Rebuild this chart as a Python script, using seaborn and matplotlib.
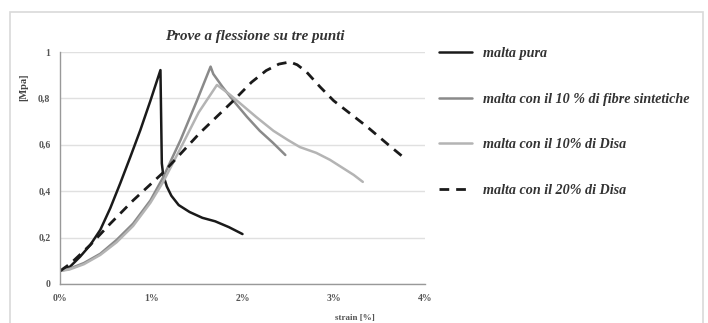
import matplotlib
matplotlib.use("Agg")
import matplotlib.pyplot as plt
import seaborn as sns
import pandas as pd
from matplotlib.patches import Rectangle

# strain [%] / stress [Mpa]
strain_pura = [0.0, 0.11, 0.22, 0.33, 0.44, 0.55, 0.66, 0.77, 0.88, 0.99, 1.10,
               1.115, 1.13, 1.17, 1.22, 1.30, 1.42, 1.56, 1.70, 1.85, 2.00]
mpa_pura = [0.056, 0.075, 0.118, 0.168, 0.233, 0.327, 0.435, 0.548, 0.664, 0.79, 0.922,
            0.52, 0.47, 0.42, 0.38, 0.34, 0.31, 0.285, 0.27, 0.245, 0.215]

strain_fibre = [0.0, 0.10, 0.26, 0.44, 0.62, 0.80, 0.99, 1.13, 1.32, 1.50, 1.65,
                1.68, 1.78, 1.90, 2.05, 2.19, 2.33, 2.47]
mpa_fibre = [0.056, 0.065, 0.09, 0.13, 0.19, 0.26, 0.36, 0.46, 0.62, 0.79, 0.937,
             0.905, 0.85, 0.79, 0.72, 0.66, 0.61, 0.556]

strain_disa10 = [0.0, 0.10, 0.26, 0.44, 0.62, 0.80, 0.99, 1.13, 1.32, 1.52, 1.72,
                 1.85, 1.97, 2.15, 2.34, 2.50, 2.63, 2.81, 2.96, 3.10, 3.22, 3.32]
mpa_disa10 = [0.056, 0.062, 0.085, 0.125, 0.18, 0.25, 0.35, 0.44, 0.585, 0.74, 0.858,
              0.82, 0.78, 0.72, 0.66, 0.62, 0.59, 0.565, 0.535, 0.50, 0.47, 0.44]

strain_disa20 = [0.0, 0.12, 0.33, 0.55, 0.80, 1.13, 1.53, 1.90, 2.10, 2.26, 2.40,
                 2.52, 2.60, 2.70, 2.85, 3.00, 3.18, 3.36, 3.60, 3.80]
mpa_disa20 = [0.056, 0.09, 0.168, 0.26, 0.36, 0.48, 0.65, 0.79, 0.87, 0.92, 0.948,
              0.957, 0.945, 0.915, 0.85, 0.79, 0.735, 0.68, 0.60, 0.535]

labels = ["malta pura", "malta con il 10 % di fibre sintetiche",
          "malta con il 10% di Disa", "malta con il 20% di Disa"]

sns.set_style("white")
plt.rcParams['font.family'] = ['Liberation Serif', 'DejaVu Serif']

fig = plt.figure(figsize=(7.08, 3.23), dpi=100)
fig.patches.append(Rectangle((10 / 708, -0.01), 693 / 708, (323 - 12) / 323 + 0.01,
                             transform=fig.transFigure, fill=False,
                             edgecolor="#d9d9d9", linewidth=1.2))
ax = fig.add_axes([0.085, 0.121, 0.515, 0.718])

series = [
    (strain_pura, mpa_pura, "#1a1a1a", "-", 1.8),
    (strain_fibre, mpa_fibre, "#8a8a8a", "-", 1.8),
    (strain_disa10, mpa_disa10, "#b4b4b4", "-", 1.8),
    (strain_disa20, mpa_disa20, "#1a1a1a", (0, (3.5, 2.5)), 2.0),
]
for (x, y, c, ls, lw), lab in zip(series, labels):
    df = pd.DataFrame({"strain": x, "mpa": y})
    sns.lineplot(data=df, x="strain", y="mpa", ax=ax, color=c, linestyle=ls,
                 linewidth=lw, label=lab, sort=False, estimator=None)

ax.set_xlim(0, 4)
ax.set_ylim(0, 1)
ax.set_xticks([0, 1, 2, 3, 4])
ax.set_xticklabels(["0%", "1%", "2%", "3%", "4%"])
ax.set_yticks([0, 0.2, 0.4, 0.6, 0.8, 1])
ax.set_yticklabels(["0", "0,2", "0,4", "0,6", "0,8", "1"])
ax.tick_params(labelsize=7, colors="#555555", length=0, pad=7)
for t in ax.get_xticklabels() + ax.get_yticklabels():
    t.set_fontweight("bold")
ax.grid(axis="y", color="#e0e0e0", linewidth=1)
for s in ["top", "right"]:
    ax.spines[s].set_visible(False)
for s in ["left", "bottom"]:
    ax.spines[s].set_color("#999999")
    ax.spines[s].set_linewidth(1)

ax.set_xlabel("")
ax.set_ylabel("[Mpa]", fontsize=7.5, fontweight="bold", color="#444444")
ax.yaxis.set_label_coords(-0.087, 0.85)
fig.text(355 / 708, 1 - 318 / 323, "strain [%]", fontsize=6.5, fontweight="bold",
         color="#555555", ha="center", va="center")
ax.set_title("Prove a flessione su tre punti", fontsize=10.8, fontstyle="italic",
             fontweight="bold", color="#333333", pad=9, x=0.535)

leg = ax.legend(loc="upper left", bbox_to_anchor=(1.005, 1.078), frameon=False,
                prop={"size": 10.2, "style": "italic", "weight": "bold"},
                labelspacing=2.32, handlelength=2.3, handletextpad=0.8)
for t in leg.get_texts():
    t.set_color("#333333")

fig.savefig("out.png", dpi=100)
